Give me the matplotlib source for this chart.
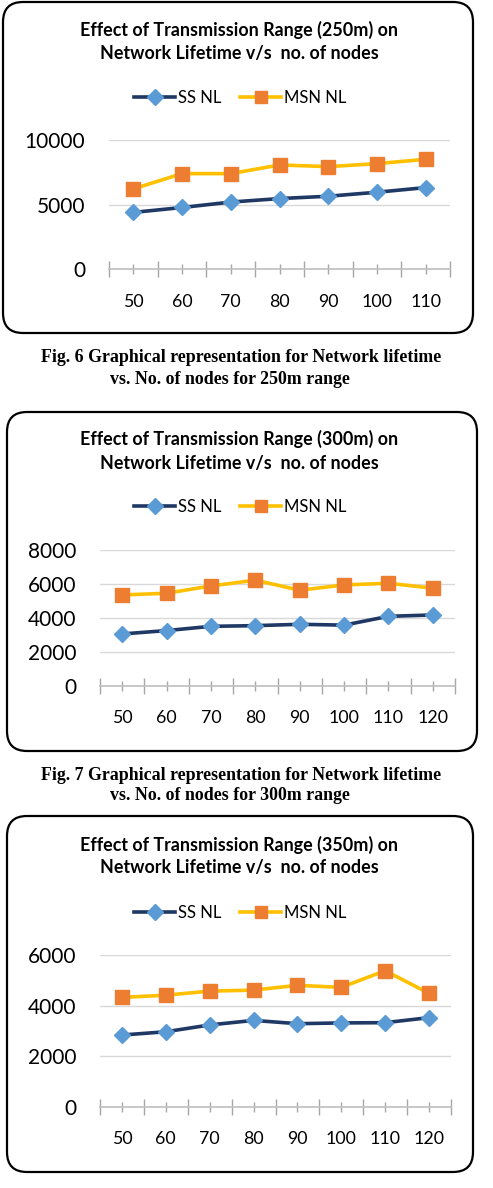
import numpy as np
import matplotlib
matplotlib.use('Agg')
import matplotlib.pyplot as plt
from matplotlib.patches import FancyBboxPatch
from matplotlib.lines import Line2D

# ---------------- data ----------------
nodes_250 = ['50', '60', '70', '80', '90', '100', '110']
ss_250 = [4400, 4780, 5200, 5470, 5650, 5960, 6320]
msn_250 = [6220, 7400, 7400, 8070, 7940, 8170, 8510]

nodes_300 = ['50', '60', '70', '80', '90', '100', '110', '120']
ss_300 = [3050, 3250, 3500, 3540, 3620, 3570, 4090, 4170]
msn_300 = [5350, 5450, 5880, 6220, 5630, 5940, 6040, 5750]

nodes_350 = ['50', '60', '70', '80', '90', '100', '110', '120']
ss_350 = [2840, 2970, 3240, 3420, 3290, 3320, 3330, 3530]
msn_350 = [4330, 4420, 4580, 4620, 4810, 4730, 5390, 4490]

yticks_250 = [0, 5000, 10000]
yticks_300 = [0, 2000, 4000, 6000, 8000]
yticks_350 = [0, 2000, 4000, 6000]

titles = [('Effect of Transmission Range (250m) on', 'Network Lifetime v/s  no. of nodes'),
          ('Effect of Transmission Range (300m) on', 'Network Lifetime v/s  no. of nodes'),
          ('Effect of Transmission Range (350m) on', 'Network Lifetime v/s  no. of nodes')]
captions = [('Fig. 6 Graphical representation for Network lifetime', 'vs. No. of nodes for 250m range'),
            ('Fig. 7 Graphical representation for Network lifetime', 'vs. No. of nodes for 300m range')]
series_names = ['SS NL', 'MSN NL']

# ---------------- style ----------------
W, H = 493, 1188
SS_LINE, SS_MARK = '#1F3864', '#5B9BD5'
MSN_LINE, MSN_MARK = '#FFC000', '#ED7D31'
SANS = 'Lato'
SERIF = 'Liberation Serif'

fig = plt.figure(figsize=(W / 100, H / 100), dpi=100)
bg = fig.add_axes([0, 0, 1, 1], zorder=0)
bg.set_xlim(0, W)
bg.set_ylim(H, 0)
bg.axis('off')


def rect(l, t, r, b):
    return [l / W, 1 - b / H, (r - l) / W, (b - t) / H]


panels = [
    dict(box=(3, 2, 473, 333), ax=(109, 140, 450, 269.3), title_y=(30, 53), legend_y=98,
         cats=nodes_250, ss=ss_250, msn=msn_250, yt=yticks_250),
    dict(box=(7, 412, 477, 751), ax=(100, 550, 455, 685.7), title_y=(439, 463), legend_y=507,
         cats=nodes_300, ss=ss_300, msn=msn_300, yt=yticks_300),
    dict(box=(7, 816, 473, 1172), ax=(100, 955.3, 451, 1106.7), title_y=(845, 868), legend_y=913,
         cats=nodes_350, ss=ss_350, msn=msn_350, yt=yticks_350),
]

for i, p in enumerate(panels):
    l, t, r, b = p['box']
    bg.add_patch(FancyBboxPatch((l, t), r - l, b - t,
                                boxstyle='round,pad=0,rounding_size=20',
                                facecolor='white', edgecolor='black', linewidth=1.6))
    for line, yy in zip(titles[i], p['title_y']):
        bg.text(239, yy, line, ha='center', va='center',
                fontsize=12.9, fontweight='bold', family=SANS)

    ax = fig.add_axes(rect(*p['ax']), zorder=2)
    ax.set_facecolor('none')
    n = len(p['cats'])
    x = np.arange(n)
    ax.plot(x, p['ss'], color=SS_LINE, lw=2.6, marker='D', ms=8.5,
            mfc=SS_MARK, mec=SS_MARK, zorder=3, label=series_names[0])
    ax.plot(x, p['msn'], color=MSN_LINE, lw=2.6, marker='s', ms=10,
            mfc=MSN_MARK, mec=MSN_MARK, zorder=3, label=series_names[1])
    ax.set_xlim(-0.5, n - 0.5)
    ax.set_ylim(0, p['yt'][-1])
    ax.set_yticks(p['yt'])
    ax.set_yticklabels([str(v) for v in p['yt']], family=SANS, fontsize=15)
    ax.set_xticks(x)
    ax.set_xticklabels(p['cats'], family=SANS, fontsize=12.8)
    ax.set_xticks(np.arange(n + 1) - 0.5, minor=True)
    for s in ['top', 'right', 'left']:
        ax.spines[s].set_visible(False)
    ax.spines['bottom'].set_color('#BFBFBF')
    ax.spines['bottom'].set_linewidth(1.2)
    ax.tick_params(axis='y', length=0, pad=17)
    ax.tick_params(axis='x', which='major', direction='inout', length=7,
                   color='#A6A6A6', width=1, pad=14)
    ax.tick_params(axis='x', which='minor', direction='inout', length=12,
                   color='#A6A6A6', width=1)
    ax.yaxis.grid(True, color='#D9D9D9', lw=1)
    ax.xaxis.grid(False)
    ax.set_axisbelow(True)

    handles = [Line2D([], [], color=SS_LINE, lw=2.6, marker='D', ms=8, mfc=SS_MARK, mec=SS_MARK),
               Line2D([], [], color=MSN_LINE, lw=2.6, marker='s', ms=9, mfc=MSN_MARK, mec=MSN_MARK)]
    ax.legend(handles, series_names, loc='center', ncol=2, frameon=False,
              bbox_to_anchor=(240 / W, 1 - p['legend_y'] / H), bbox_transform=fig.transFigure,
              prop=dict(family=SANS, size=12), handlelength=2.5, handletextpad=0.15,
              columnspacing=1.1, numpoints=1)

caption_y = [(358, 379), (775, 796)]
for (c1, c2), (y1, y2) in zip(captions, caption_y):
    bg.text(241, y1, c1, ha='center', va='center', family=SERIF, fontweight='bold', fontsize=12.9)
    bg.text(230, y2, c2, ha='center', va='center', family=SERIF, fontweight='bold', fontsize=12.9)

fig.savefig('out.png', dpi=100)
